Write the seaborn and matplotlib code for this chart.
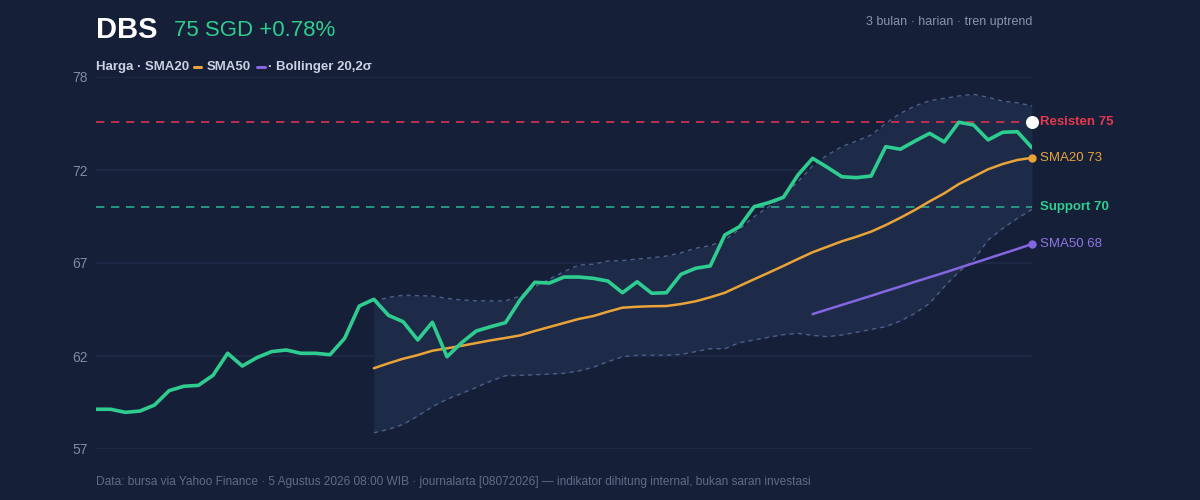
import numpy as np
import pandas as pd
import matplotlib
matplotlib.use("Agg")
import matplotlib.pyplot as plt
import seaborn as sns

price = [59.38, 59.38, 59.21, 59.28, 59.61, 60.40, 60.64, 60.69, 61.24, 62.45,
         61.75, 62.21, 62.54, 62.63, 62.45, 62.45, 62.37, 63.27, 65.04, 65.41,
         64.53, 64.18, 63.18, 64.15, 62.26, 63.03, 63.67, 63.91, 64.13, 65.37,
         66.34, 66.30, 66.63, 66.63, 66.56, 66.41, 65.77, 66.37, 65.74, 65.77,
         66.78, 67.11, 67.24, 68.94, 69.39, 70.49, 70.71, 71.00, 72.23, 73.14,
         72.65, 72.13, 72.08, 72.17, 73.78, 73.64, 74.09, 74.51, 74.04, 75.12,
         74.97, 74.15, 74.57, 74.60, 73.72]
sma20 = [61.63, 61.90, 62.15, 62.35, 62.59, 62.72, 62.86, 63.01, 63.16, 63.29,
         63.43, 63.67, 63.89, 64.11, 64.33, 64.49, 64.73, 64.95, 65.00, 65.03,
         65.04, 65.15, 65.30, 65.52, 65.77, 66.14, 66.51, 66.87, 67.24, 67.62,
         67.99, 68.29, 68.59, 68.84, 69.12, 69.48, 69.88, 70.31, 70.78, 71.22,
         71.73, 72.13, 72.54, 72.83, 73.05, 73.17]
sma50 = [64.60, 64.85, 65.10, 65.35, 65.60, 65.86, 66.11, 66.37, 66.62, 66.87,
         67.13, 67.39, 67.65, 67.91, 68.17, 68.44]
bb_upper = [65.28, 65.52, 65.63, 65.61, 65.59, 65.46, 65.37, 65.33, 65.32, 65.32,
            65.59, 66.10, 66.52, 66.92, 67.29, 67.33, 67.51, 67.53, 67.62, 67.69,
            67.78, 67.96, 68.21, 68.35, 68.66, 69.25, 69.94, 70.49, 71.07, 71.86,
            72.72, 73.32, 73.78, 74.09, 74.42, 75.06, 75.61, 76.01, 76.30, 76.43,
            76.56, 76.65, 76.49, 76.28, 76.19, 76.01]
bb_lower = [58.09, 58.28, 58.55, 59.01, 59.52, 59.93, 60.25, 60.58, 60.93, 61.22,
            61.24, 61.27, 61.31, 61.35, 61.48, 61.68, 61.99, 62.26, 62.34, 62.34,
            62.34, 62.39, 62.54, 62.70, 62.70, 63.03, 63.18, 63.33, 63.47, 63.54,
            63.43, 63.36, 63.45, 63.60, 63.76, 63.91, 64.22, 64.64, 65.19, 66.10,
            66.92, 67.56, 68.66, 69.30, 69.85, 70.34]
resistance = 75.13
support = 70.46
yticks = [57.2, 62.3, 67.4, 72.5, 77.6]

BG = "#152038"
sns.set_theme(style="dark")
plt.rcParams['font.family'] = ['Liberation Sans', 'DejaVu Sans']

fig = plt.figure(figsize=(12, 5), dpi=100, facecolor=BG)
ax = fig.add_axes([0.08, 0.102, 0.78, 0.744])
ax.set_facecolor(BG)

n = len(price)
x = np.arange(n)
x20 = np.arange(n - len(sma20), n)
x50 = np.arange(n - len(sma50), n)

for t in yticks:
    ax.axhline(t, color="#1f2c47", lw=1.2, zorder=0)

ax.fill_between(x20, bb_lower, bb_upper, color="#1d2b48", lw=0, zorder=1)
sns.lineplot(x=x20, y=bb_upper, ax=ax, color="#4b5f88", lw=1, linestyle=(0, (3, 3)), zorder=2)
sns.lineplot(x=x20, y=bb_lower, ax=ax, color="#4b5f88", lw=1, linestyle=(0, (3, 3)), zorder=2)

ax.axhline(resistance, color="#d9324f", lw=1.2, ls=(0, (5, 4)), zorder=2)
ax.axhline(support, color="#2aa98f", lw=1.2, ls=(0, (5, 4)), zorder=2)

sns.lineplot(x=x50, y=sma50, ax=ax, color="#8467e0", lw=1.8, zorder=3)
sns.lineplot(x=x20, y=sma20, ax=ax, color="#e9a338", lw=1.8, zorder=3)
sns.lineplot(x=x, y=price, ax=ax, color="#2ecc8f", lw=2.6, zorder=4)

ax.scatter([n - 1], [resistance], s=70, color="white", zorder=6, clip_on=False)
ax.scatter([n - 1], [sma20[-1]], s=25, color="#e9a338", zorder=6, clip_on=False)
ax.scatter([n - 1], [sma50[-1]], s=25, color="#8467e0", zorder=6, clip_on=False)

ax.set_xlim(0, n - 1)
ax.set_ylim(yticks[0], yticks[-1])
ax.set_yticks(yticks)
ax.set_yticklabels([f"{t:.0f}" for t in yticks], color="#7f8ba3", fontsize=10)
for lbl in ax.get_yticklabels():
    lbl.set_horizontalalignment("left")
ax.yaxis.set_tick_params(length=0, pad=17)
ax.set_xticks([])
for s in ax.spines.values():
    s.set_visible(False)

lx = n - 1 + 0.55
ax.text(lx, resistance, "Resisten 75", color="#e8364f", fontsize=9.5, fontweight="bold", va="center", clip_on=False)
ax.text(lx, sma20[-1], "SMA20 73", color="#e9a338", fontsize=9.5, va="center", clip_on=False)
ax.text(lx, support, "Support 70", color="#2ecc8f", fontsize=9.5, fontweight="bold", va="center", clip_on=False)
ax.text(lx, sma50[-1], "SMA50 68", color="#8f74e6", fontsize=9.5, va="center", clip_on=False)

fig.text(0.08, 0.94, "DBS", color="white", fontsize=21, fontweight="bold", va="center")
fig.text(0.145, 0.938, "75 SGD +0.78%", color="#2ecc8f", fontsize=16, va="center")
fig.text(0.86, 0.956, "3 bulan · harian · tren uptrend", color="#8a95ab", fontsize=9, ha="right", va="center")

LC = "#c9d2e3"
fig.text(0.08, 0.866, "Harga · SMA20", color=LC, fontsize=9.5, fontweight="bold", va="center")
fig.add_artist(plt.Line2D([0.1615, 0.1675], [0.866, 0.866], color="#e9a338", lw=2.2))
fig.text(0.1725, 0.866, "SMA50", color=LC, fontsize=9.5, fontweight="bold", va="center")
fig.add_artist(plt.Line2D([0.2145, 0.2205], [0.866, 0.866], color="#8467e0", lw=2.2))
fig.text(0.2235, 0.866, "· Bollinger 20,2σ", color=LC, fontsize=9.5, fontweight="bold", va="center")

fig.text(0.08, 0.036, "Data: bursa via Yahoo Finance · 5 Agustus 2026 08:00 WIB · journalarta [08072026] — indikator dihitung internal, bukan saran investasi",
         color="#5f6c86", fontsize=8.6, va="center")

fig.savefig("out.png", dpi=100, facecolor=BG)
